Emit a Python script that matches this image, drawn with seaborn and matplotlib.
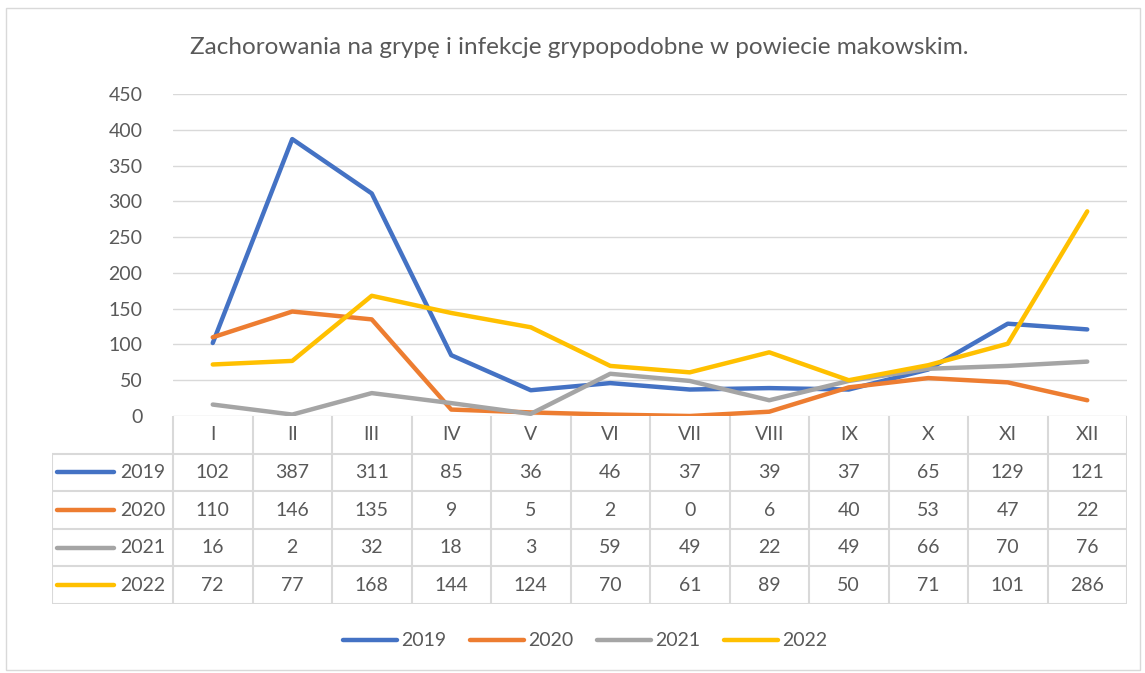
import numpy as np
import pandas as pd
import matplotlib
matplotlib.use("Agg")
import matplotlib.pyplot as plt
from matplotlib.patches import Rectangle
import seaborn as sns

months = ['I', 'II', 'III', 'IV', 'V', 'VI', 'VII', 'VIII', 'IX', 'X', 'XI', 'XII']
years = ['2019', '2020', '2021', '2022']
v2019 = [102, 387, 311, 85, 36, 46, 37, 39, 37, 65, 129, 121]
v2020 = [110, 146, 135, 9, 5, 2, 0, 6, 40, 53, 47, 22]
v2021 = [16, 2, 32, 18, 3, 59, 49, 22, 49, 66, 70, 76]
v2022 = [72, 77, 168, 144, 124, 70, 61, 89, 50, 71, 101, 286]
colors = ['#4472C4', '#ED7D31', '#A5A5A5', '#FFC000']
title = 'Zachorowania na grypę i infekcje grypopodobne w powiecie makowskim.'

series = [v2019, v2020, v2021, v2022]
rows = []
for y, vals in zip(years, series):
    for i, v in enumerate(vals):
        rows.append({'pos': i + 0.5, 'value': v, 'year': y})
df = pd.DataFrame(rows)

sns.set_theme(style='white')
plt.rcParams['font.family'] = ['Lato', 'DejaVu Sans']
txt = '#595959'
grid = '#d9d9d9'

W, H = 1145, 673
fig = plt.figure(figsize=(W / 100, H / 100), dpi=100)
fig.patches.append(Rectangle((6 / W, 1 - 670 / H), 1134 / W, 662 / H, transform=fig.transFigure,
                             fill=False, edgecolor=grid, linewidth=1))

# main plot area
ax = fig.add_axes([173 / W, 1 - 416 / H, (1127 - 173) / W, (416 - 94) / H])
sns.lineplot(data=df, x='pos', y='value', hue='year', palette=colors, linewidth=3.2,
             legend=False, ax=ax, solid_joinstyle='round', solid_capstyle='round')
ax.set_xlim(0, 12)
ax.set_ylim(0, 450)
ax.set_yticks(np.arange(0, 451, 50))
ax.set_xticks([])
ax.set_xlabel('')
ax.set_ylabel('')
ax.grid(axis='y', color=grid, linewidth=1)
for s in ax.spines.values():
    s.set_visible(False)
ax.tick_params(axis='y', length=0, pad=22, labelsize=14, labelcolor=txt)
ax.set_zorder(2)
ax.patch.set_alpha(0)

fig.text(579 / W, 1 - 48 / H, title, ha='center', va='center', fontsize=17.5, color=txt)

# data table under the plot
left = -(173 - 52) / 79.5
tb = fig.add_axes([52 / W, 1 - 604 / H, (1127 - 52) / W, (604 - 416) / H])
tb.set_xlim(left, 12)
tb.set_ylim(5, 0)
tb.axis('off')
for k in range(13):
    tb.plot([k, k], [0, 5], color=grid, lw=1.5)
tb.plot([left, left], [1, 5], color=grid, lw=1.5)
for r in range(1, 6):
    tb.plot([left, 12], [r, r], color=grid, lw=1.5)
for i, m in enumerate(months):
    tb.text(i + 0.5, 0.5, m, ha='center', va='center', fontsize=14, color=txt)
for r, (y, vals, c) in enumerate(zip(years, series, colors)):
    yy = r + 1.5
    tb.plot([left + 5 / 79.5, left + 62 / 79.5], [yy, yy], color=c, lw=3.2, solid_capstyle='round')
    tb.text(-8 / 79.5, yy, y, ha='right', va='center', fontsize=14, color=txt)
    for i, v in enumerate(vals):
        tb.text(i + 0.5, yy, str(v), ha='center', va='center', fontsize=14, color=txt)

handles = ax.get_lines()[:4]
fig.legend(handles, years, loc='center', bbox_to_anchor=(585 / W, 1 - 641 / H), ncol=4,
           frameon=False, fontsize=14, handlelength=2.8, columnspacing=1.2, handletextpad=0.2,
           labelcolor=txt)

fig.savefig('out.png', dpi=100)
